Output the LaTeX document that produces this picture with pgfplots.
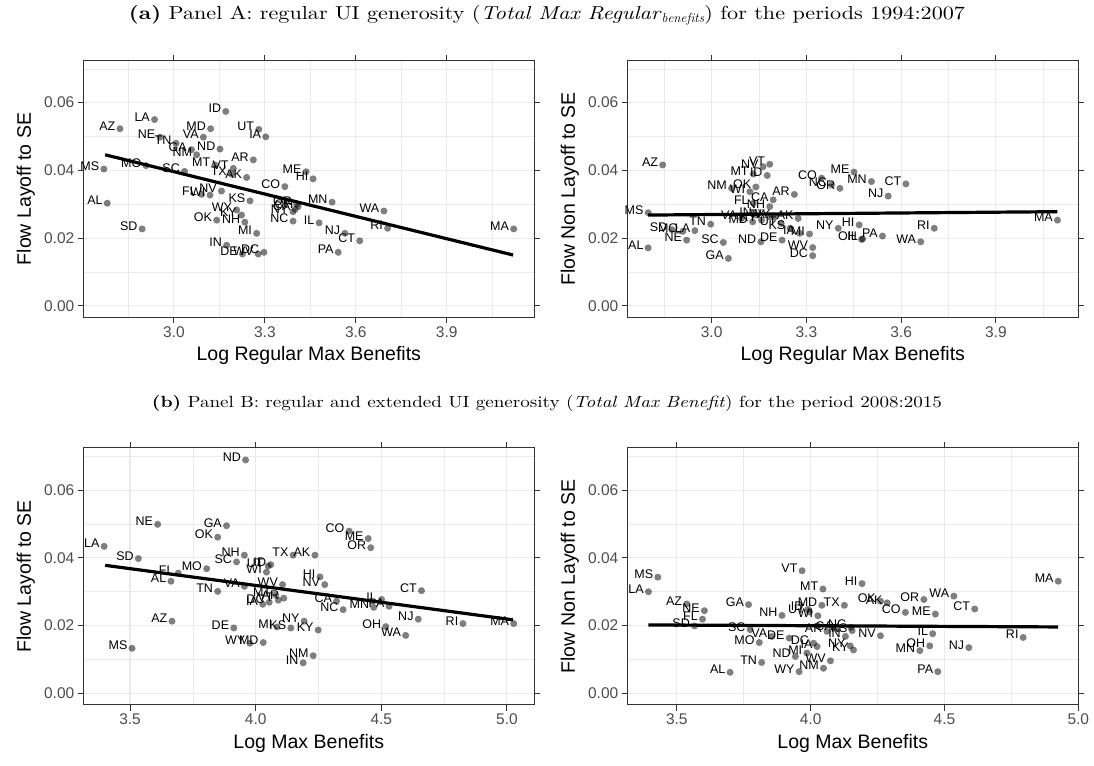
\documentclass[border=0pt]{standalone}
\usepackage{fontspec}
\usepackage{graphicx}
\usepackage{pgfplots}
\usepackage{pgfplotstable}
\pgfplotsset{compat=1.18}
\setsansfont{Liberation Sans}
\newfontfamily\headfam{lmroman10}[Extension=.otf, UprightFont=*-regular, BoldFont=*-bold, ItalicFont=*-italic, BoldItalicFont=*-bolditalic, FakeStretch=1.18]
\definecolor{gridmaj}{HTML}{EBEBEB}
\definecolor{g20}{HTML}{333333}
\definecolor{g30}{HTML}{4D4D4D}
\newcommand{\tickf}{\sffamily\fontsize{15.5}{16}\selectfont}
\newcommand{\titf}{\sffamily\fontsize{19.5}{20}\selectfont}
\newcommand{\labf}{\sffamily\fontsize{12.5}{13}\selectfont}
\newcommand{\headf}{\headfam\fontsize{20.8}{22}\selectfont}

\pgfplotstableread{
x y lab
2.769 0.0404 MS
2.780 0.0303 AL
2.895 0.0227 SD
2.908 0.0414 MO
3.035 0.0397 SC
2.822 0.0523 AZ
2.936 0.0550 LA
2.954 0.0498 NE
3.007 0.0480 TN
3.058 0.0461 GA
3.075 0.0446 NM
3.152 0.0463 ND
3.121 0.0523 MD
3.097 0.0498 VA
3.171 0.0574 ID
3.280 0.0521 UT
3.303 0.0499 IA
3.135 0.0416 MT
3.196 0.0406 VT
3.262 0.0431 AR
3.190 0.0389 TX
3.240 0.0379 AK
3.366 0.0352 CO
3.436 0.0396 ME
3.459 0.0375 HI
3.091 0.0329 FL
3.119 0.0327 WI
3.157 0.0339 NV
3.251 0.0310 KS
3.207 0.0283 WY
3.223 0.0268 KY
3.141 0.0253 OK
3.234 0.0247 NH
3.273 0.0214 MI
3.174 0.0179 IN
3.226 0.0153 DE
3.278 0.0153 WV
3.297 0.0158 DC
3.393 0.0250 NC
3.393 0.0278 NY
3.410 0.0293 OH
3.522 0.0306 MN
3.400 0.0285 CA
3.405 0.0300 OR
3.479 0.0245 IL
3.693 0.0280 WA
3.705 0.0229 RI
4.121 0.0227 MA
3.564 0.0214 NJ
3.613 0.0192 CT
3.542 0.0158 PA
}\tabAone

\pgfplotstableread{
x y lab
2.845 0.0416 AZ
2.799 0.0275 MS
2.799 0.0171 AL
3.184 0.0418 VT
3.163 0.0411 NV
3.132 0.0389 MT
3.176 0.0385 ID
3.063 0.0347 NM
3.140 0.0351 OK
3.121 0.0337 WI
3.195 0.0313 CA
3.262 0.0329 AR
3.132 0.0303 FL
3.184 0.0293 NH
3.348 0.0377 CO
3.380 0.0357 NC
3.406 0.0347 OR
3.451 0.0395 ME
3.506 0.0367 MN
3.615 0.0360 CT
3.559 0.0324 NJ
4.095 0.0253 MA
3.705 0.0229 RI
3.467 0.0239 HI
3.401 0.0229 NY
3.475 0.0196 OH
3.478 0.0198 IL
3.541 0.0206 PA
3.662 0.0189 WA
2.874 0.0225 SD
2.909 0.0220 MO
2.947 0.0222 LA
2.921 0.0194 NE
2.997 0.0241 TN
3.037 0.0187 SC
3.053 0.0140 GA
3.156 0.0189 ND
3.223 0.0194 DE
3.320 0.0172 WV
3.320 0.0148 DC
3.279 0.0214 IA
3.310 0.0212 MI
3.095 0.0258 VA
3.130 0.0248 MD
3.142 0.0268 IN
3.158 0.0253 KY
3.185 0.0262 TX
3.274 0.0258 AK
3.248 0.0229 KS
3.220 0.0243 UT
3.200 0.0262 WY
}\tabAtwo

\pgfplotstableread{
x y lab
3.960 0.0689 ND
3.610 0.0499 NE
3.884 0.0495 GA
3.849 0.0461 OK
3.397 0.0434 LA
3.533 0.0398 SD
3.955 0.0408 NH
3.924 0.0388 SC
4.149 0.0408 TX
4.236 0.0408 AK
4.060 0.0380 ID
4.050 0.0376 UT
4.043 0.0358 WI
3.805 0.0368 MO
3.692 0.0355 FL
3.663 0.0331 AL
3.849 0.0301 TN
3.955 0.0316 VA
4.107 0.0321 WV
4.028 0.0263 IA
4.054 0.0269 DC
4.112 0.0281 AR
4.080 0.0290 MT
4.090 0.0275 VT
4.256 0.0344 HI
4.275 0.0321 NV
4.372 0.0479 CO
4.448 0.0457 ME
4.458 0.0430 OR
4.660 0.0303 CT
4.322 0.0272 CA
4.348 0.0247 NC
4.470 0.0254 MN
4.501 0.0277 IL
4.531 0.0257 PA
4.647 0.0219 NJ
4.825 0.0206 RI
5.027 0.0206 MA
4.518 0.0197 OH
4.597 0.0171 WA
4.249 0.0187 KY
4.229 0.0111 NM
4.189 0.0090 IN
3.667 0.0213 AZ
3.508 0.0133 MS
3.913 0.0193 DE
3.977 0.0148 WY
4.030 0.0150 MD
4.085 0.0196 MI
4.140 0.0193 KS
4.193 0.0213 NY
}\tabBone

\pgfplotstableread{
x y lab
3.429 0.0343 MS
3.394 0.0300 LA
3.537 0.0264 AZ
3.603 0.0244 NE
3.596 0.0219 FL
3.566 0.0199 SD
3.768 0.0262 GA
3.893 0.0230 NH
3.968 0.0362 VT
4.046 0.0308 MT
4.042 0.0260 MD
4.126 0.0260 TX
3.996 0.0240 UT
3.990 0.0248 ID
4.027 0.0229 WI
3.774 0.0188 SC
3.855 0.0168 VA
3.920 0.0163 DE
3.808 0.0150 MO
4.354 0.0239 CO
4.011 0.0148 DC
3.986 0.0119 MI
4.024 0.0138 IA
3.943 0.0109 ND
4.074 0.0096 WV
4.048 0.0074 NM
3.957 0.0064 WY
3.817 0.0091 TN
3.699 0.0062 AL
4.061 0.0183 AR
4.130 0.0168 IN
4.150 0.0195 NC
4.148 0.0140 NY
4.160 0.0128 KY
4.192 0.0324 HI
4.286 0.0267 AK
4.261 0.0272 OK
4.100 0.0190 CA
4.423 0.0277 OR
4.535 0.0287 WA
4.613 0.0249 CT
4.466 0.0234 ME
4.456 0.0176 IL
4.261 0.0170 NV
4.155 0.0185 KS
4.445 0.0140 OH
4.408 0.0126 MN
4.591 0.0135 NJ
4.475 0.0064 PA
4.794 0.0165 RI
4.925 0.0331 MA
}\tabBtwo

\pgfplotsset{
 panel/.style={
  scale only axis, width=451pt, height=257pt,
  ymin=-0.00345, ymax=0.07245,
  scaled y ticks=false, scaled x ticks=false,
  ytick={0,0.02,0.04,0.06}, yticklabels={0.00,0.02,0.04,0.06},
  minor ytick={0.01,0.03,0.05,0.07},
  grid=both,
  major grid style={gridmaj, line width=1.1pt},
  minor grid style={gridmaj, line width=0.55pt},
  axis line style={g20, line width=1pt},
  major tick style={g20, line width=1pt},
  minor tick style={draw=none},
  tick align=outside,
  major tick length=5.5pt,
  minor tick length=0pt,
  ticklabel style={font=\tickf, text=g30},
  label style={font=\titf, text=black, inner sep=0pt},
  xlabel style={at={(axis description cs:0.5,-0.113)}, anchor=north},
  ylabel style={at={(axis description cs:-0.116,0.5)}, anchor=base},
 },
 toppanel/.style={panel,
  xtick={3.0,3.3,3.6,3.9}, xticklabels={3.0,3.3,3.6,3.9},
  minor xtick={2.55,2.85,3.15,3.45,3.75,4.05},
  xlabel={Log Regular Max Benefits}},
 botpanel/.style={panel,
  xtick={3.5,4.0,4.5,5.0}, xticklabels={3.5,4.0,4.5,5.0},
  minor xtick={3.25,3.75,4.25,4.75},
  xlabel={Log Max Benefits}},
 pts/.style={only marks, mark=*, mark size=3.5pt, color=black,
  mark options={fill=black, fill opacity=0.5, draw opacity=0},
  nodes near coords, point meta=explicit symbolic,
  nodes near coords style={anchor=base east, inner sep=0pt, xshift=-4.5pt, yshift=-1.5pt, font=\labf, text=black, opacity=1}},
 fit/.style={black, line width=3.2pt, no marks},
}

\begin{document}
\begin{tikzpicture}
\useasboundingbox (0,0) rectangle (1094pt,765pt);

\node[anchor=base, font=\headf, inner sep=0pt] at (547pt,745pt) {\resizebox{836pt}{!}{\textbf{(a)} Panel A: regular UI generosity (\textit{Total Max Regular}$_{\mathit{benefits}}$) for the periods 1994:2007}};
\node[anchor=base, font=\headf, inner sep=0pt] at (547pt,357pt) {\resizebox{790pt}{!}{\textbf{(b)} Panel B: regular and extended UI generosity (\textit{Total Max Benefit}) for the period 2008:2015}};

\begin{axis}[toppanel, at={(83.3pt,447.5pt)}, anchor=south west,
  xmin=2.701, xmax=4.189, ylabel={Flow Layoff to SE}]
\addplot[pts] table[x=x, y=y, meta=lab] {\tabAone};
\addplot[fit] coordinates {(2.773,0.0446) (4.119,0.0150)};
\end{axis}

\begin{axis}[toppanel, at={(627.3pt,447.5pt)}, anchor=south west,
  xmin=2.733, xmax=4.161, ylabel={Flow Non Layoff to SE}]
\addplot[pts] table[x=x, y=y, meta=lab] {\tabAtwo};
\addplot[fit] coordinates {(2.799,0.0268) (4.095,0.0278)};
\end{axis}

\begin{axis}[botpanel, at={(83.3pt,60pt)}, anchor=south west,
  xmin=3.314, xmax=5.109, ylabel={Flow Layoff to SE}]
\addplot[pts] table[x=x, y=y, meta=lab] {\tabBone};
\addplot[fit] coordinates {(3.401,0.0378) (5.024,0.0217)};
\end{axis}

\begin{axis}[botpanel, at={(627.3pt,60pt)}, anchor=south west,
  xmin=3.315, xmax=5.0, ylabel={Flow Non Layoff to SE}]
\addplot[pts] table[x=x, y=y, meta=lab] {\tabBtwo};
\addplot[fit] coordinates {(3.394,0.0202) (4.925,0.0196)};
\end{axis}
\end{tikzpicture}
\end{document}
